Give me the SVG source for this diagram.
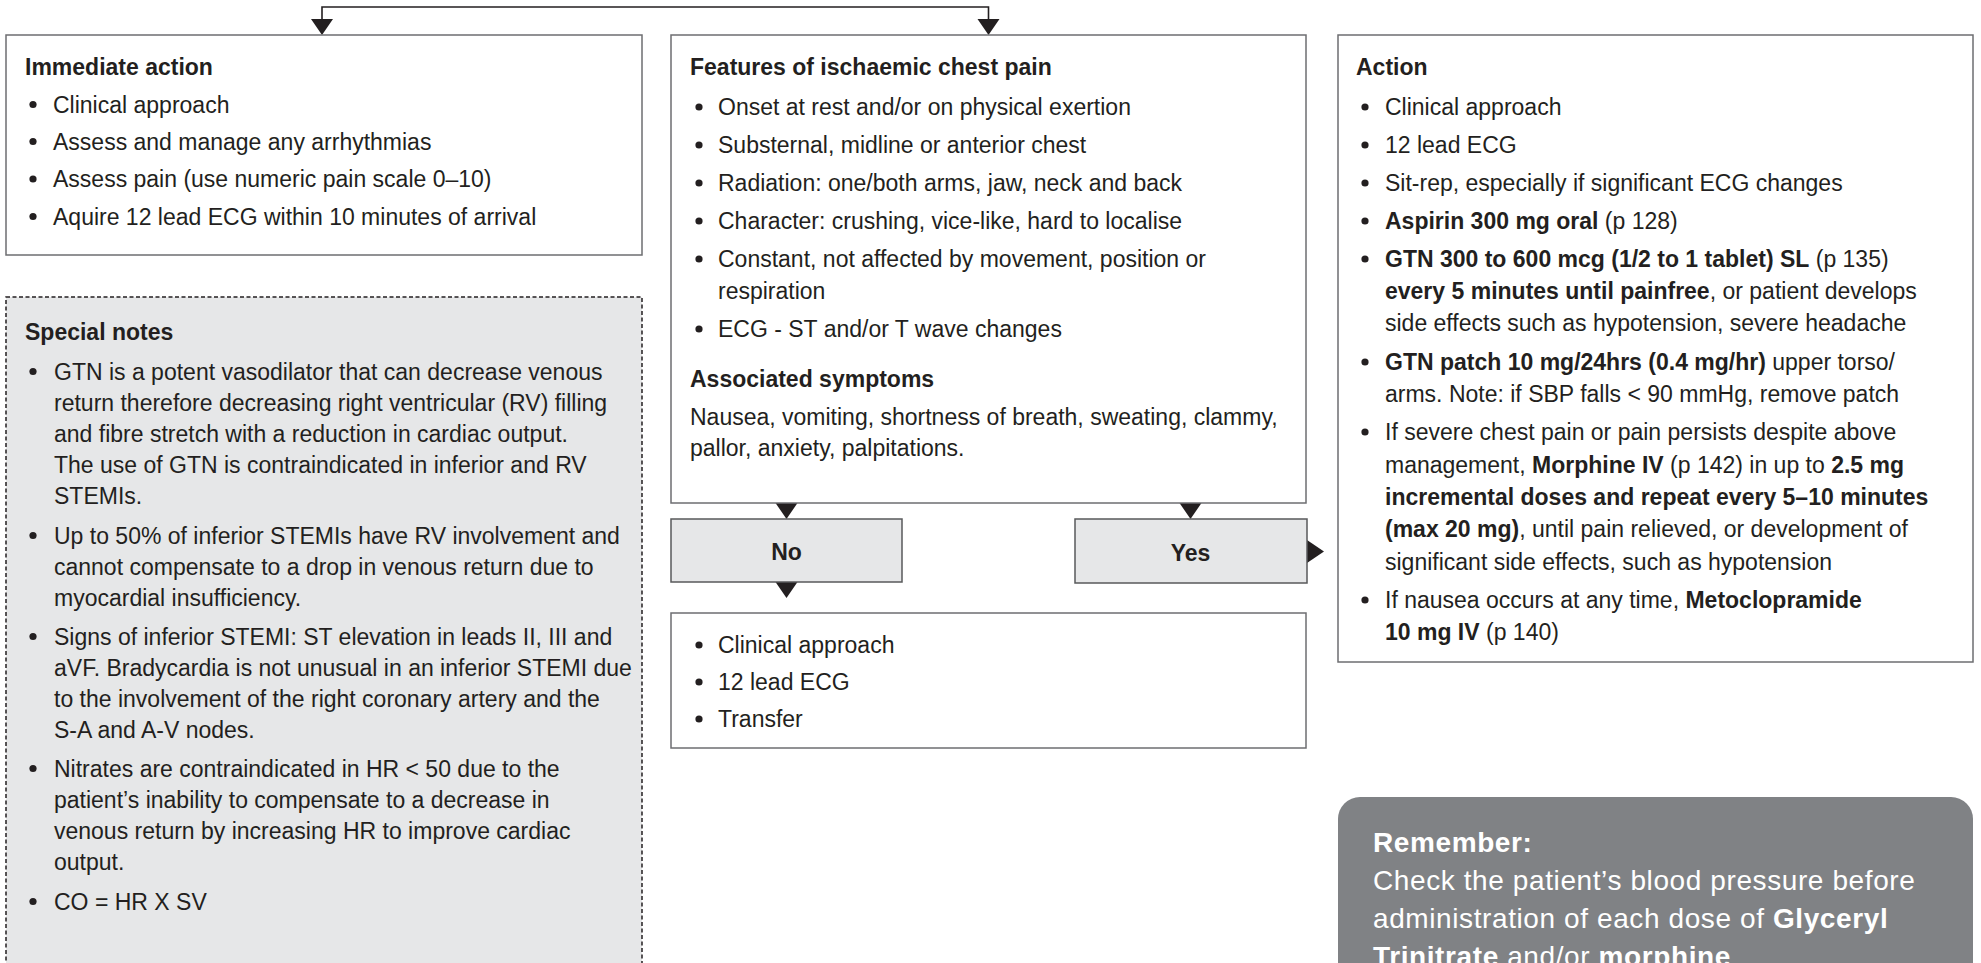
<svg xmlns="http://www.w3.org/2000/svg" width="1981" height="963" viewBox="0 0 1981 963">
  <style>
    .t { font-family: "Liberation Sans", Arial, Helvetica, sans-serif; font-size: 23px; fill: #231f20; }
    .b { font-weight: bold; }
    .box { fill: #ffffff; stroke: #6d6e71; stroke-width: 1.5; }
    .choice { fill: #e6e7e8; stroke: #58595b; stroke-width: 1.5; }
    .notes { fill: #e6e7e8; stroke: #231f20; stroke-width: 1.5; stroke-dasharray: 4 2.5; }
    .rem { fill: #808285; }
    .rt { font-family: "Liberation Sans", Arial, Helvetica, sans-serif; font-size: 28px; fill: #ffffff; letter-spacing: 0.6px; }
    .line { fill: none; stroke: #231f20; stroke-width: 1.6; }
    .head { fill: #231f20; }
    .dot { fill: #231f20; }
  </style>
  <defs>
    <circle id="bullet" r="3.6" class="dot"/>
    <path id="arrowDown" d="M -11 0 L 11 0 L 0 16 Z" class="head"/>
  </defs>

  <rect width="1981" height="963" fill="#ffffff"/>

  <!-- connectors -->
  <g id="connectors">
    <polyline class="line" points="322,20 322,7 988.5,7 988.5,20"/>
    <use href="#arrowDown" x="322" y="19"/>
    <use href="#arrowDown" x="988.5" y="19"/>
    <use href="#arrowDown" x="786.5" y="503"/>
    <use href="#arrowDown" x="1190.5" y="503"/>
    <use href="#arrowDown" x="786.5" y="582"/>
    <path d="M 1307 540 L 1307 563 L 1324 551.5 Z" class="head"/>
  </g>

  <!-- Immediate action -->
  <g id="immediate-action">
    <rect class="box" x="6" y="35" width="636" height="220"/>
    <text class="t b" x="25" y="75">Immediate action</text>
    <use href="#bullet" x="33" y="104.5"/>
    <text class="t" x="53" y="112.5">Clinical approach</text>
    <use href="#bullet" x="33" y="141.5"/>
    <text class="t" x="53" y="149.5">Assess and manage any arrhythmias</text>
    <use href="#bullet" x="33" y="179"/>
    <text class="t" x="53" y="187">Assess pain (use numeric pain scale 0–10)</text>
    <use href="#bullet" x="33" y="216.5"/>
    <text class="t" x="53" y="224.5">Aquire 12 lead ECG within 10 minutes of arrival</text>
  </g>

  <!-- Special notes -->
  <g id="special-notes">
    <rect class="notes" x="6" y="297" width="636" height="700"/>
    <text class="t b" x="25" y="340">Special notes</text>
    <use href="#bullet" x="33" y="371.5"/>
    <text class="t" x="54" y="379.5">GTN is a potent vasodilator that can decrease venous</text>
    <text class="t" x="54" y="410.5">return therefore decreasing right ventricular (RV) filling</text>
    <text class="t" x="54" y="442">and fibre stretch with a reduction in cardiac output.</text>
    <text class="t" x="54" y="472.5">The use of GTN is contraindicated in inferior and RV</text>
    <text class="t" x="54" y="503.5">STEMIs.</text>
    <use href="#bullet" x="33" y="535.5"/>
    <text class="t" x="54" y="543.5">Up to 50% of inferior STEMIs have RV involvement and</text>
    <text class="t" x="54" y="574.5">cannot compensate to a drop in venous return due to</text>
    <text class="t" x="54" y="605.5">myocardial insufficiency.</text>
    <use href="#bullet" x="33" y="636.5"/>
    <text class="t" x="54" y="644.5">Signs of inferior STEMI: ST elevation in leads II, III and</text>
    <text class="t" x="54" y="675.5">aVF. Bradycardia is not unusual in an inferior STEMI due</text>
    <text class="t" x="54" y="706.5">to the involvement of the right coronary artery and the</text>
    <text class="t" x="54" y="737.5">S-A and A-V nodes.</text>
    <use href="#bullet" x="33" y="768.5"/>
    <text class="t" x="54" y="776.5">Nitrates are contraindicated in HR &lt; 50 due to the</text>
    <text class="t" x="54" y="807.5">patient’s inability to compensate to a decrease in</text>
    <text class="t" x="54" y="839">venous return by increasing HR to improve cardiac</text>
    <text class="t" x="54" y="870">output.</text>
    <use href="#bullet" x="33" y="901.5"/>
    <text class="t" x="54" y="909.5">CO = HR X SV</text>
  </g>

  <!-- Features of ischaemic chest pain -->
  <g id="features">
    <rect class="box" x="671" y="35" width="635" height="468"/>
    <text class="t b" x="690" y="75">Features of ischaemic chest pain</text>
    <use href="#bullet" x="699" y="107"/>
    <text class="t" x="718" y="115">Onset at rest and/or on physical exertion</text>
    <use href="#bullet" x="699" y="145"/>
    <text class="t" x="718" y="153">Substernal, midline or anterior chest</text>
    <use href="#bullet" x="699" y="183"/>
    <text class="t" x="718" y="191">Radiation: one/both arms, jaw, neck and back</text>
    <use href="#bullet" x="699" y="221"/>
    <text class="t" x="718" y="229">Character: crushing, vice-like, hard to localise</text>
    <use href="#bullet" x="699" y="259"/>
    <text class="t" x="718" y="267">Constant, not affected by movement, position or</text>
    <text class="t" x="718" y="299">respiration</text>
    <use href="#bullet" x="699" y="329"/>
    <text class="t" x="718" y="337">ECG - ST and/or T wave changes</text>
    <text class="t b" x="690" y="387">Associated symptoms</text>
    <text class="t" x="690" y="425">Nausea, vomiting, shortness of breath, sweating, clammy,</text>
    <text class="t" x="690" y="456">pallor, anxiety, palpitations.</text>
  </g>

  <!-- No -->
  <g id="no">
    <rect class="choice" x="671" y="519" width="231" height="63"/>
    <text class="t b" x="786.5" y="560" text-anchor="middle">No</text>
  </g>

  <!-- Yes -->
  <g id="yes">
    <rect class="choice" x="1075" y="519" width="232" height="64"/>
    <text class="t b" x="1190.5" y="561" text-anchor="middle">Yes</text>
  </g>

  <!-- No outcome -->
  <g id="no-outcome">
    <rect class="box" x="671" y="613" width="635" height="135"/>
    <use href="#bullet" x="699" y="645"/>
    <text class="t" x="718" y="653">Clinical approach</text>
    <use href="#bullet" x="699" y="682"/>
    <text class="t" x="718" y="690">12 lead ECG</text>
    <use href="#bullet" x="699" y="719"/>
    <text class="t" x="718" y="727">Transfer</text>
  </g>

  <!-- Action -->
  <g id="action">
    <rect class="box" x="1338" y="35" width="635" height="627"/>
    <text class="t b" x="1356" y="75">Action</text>
    <use href="#bullet" x="1365" y="107"/>
    <text class="t" x="1385" y="115">Clinical approach</text>
    <use href="#bullet" x="1365" y="145"/>
    <text class="t" x="1385" y="153">12 lead ECG</text>
    <use href="#bullet" x="1365" y="183"/>
    <text class="t" x="1385" y="191">Sit-rep, especially if significant ECG changes</text>
    <use href="#bullet" x="1365" y="221"/>
    <text class="t" x="1385" y="229"><tspan class="b">Aspirin 300 mg oral</tspan> (p 128)</text>
    <use href="#bullet" x="1365" y="259"/>
    <text class="t" x="1385" y="267"><tspan class="b">GTN 300 to 600 mcg (1/2 to 1 tablet) SL</tspan> (p 135)</text>
    <text class="t" x="1385" y="299"><tspan class="b">every 5 minutes until painfree</tspan>, or patient develops</text>
    <text class="t" x="1385" y="331">side effects such as hypotension, severe headache</text>
    <use href="#bullet" x="1365" y="362"/>
    <text class="t" x="1385" y="370"><tspan class="b">GTN patch 10 mg/24hrs (0.4 mg/hr)</tspan> upper torso/</text>
    <text class="t" x="1385" y="402">arms. Note: if SBP falls &lt; 90 mmHg, remove patch</text>
    <use href="#bullet" x="1365" y="432"/>
    <text class="t" x="1385" y="440">If severe chest pain or pain persists despite above</text>
    <text class="t" x="1385" y="472.5">management, <tspan class="b">Morphine IV</tspan> (p 142) in up to <tspan class="b">2.5 mg</tspan></text>
    <text class="t b" x="1385" y="504.5">incremental doses and repeat every 5–10 minutes</text>
    <text class="t" x="1385" y="537"><tspan class="b">(max 20 mg)</tspan>, until pain relieved, or development of</text>
    <text class="t" x="1385" y="569.5">significant side effects, such as hypotension</text>
    <use href="#bullet" x="1365" y="600"/>
    <text class="t" x="1385" y="608">If nausea occurs at any time, <tspan class="b">Metoclopramide</tspan></text>
    <text class="t" x="1385" y="640"><tspan class="b">10 mg IV</tspan> (p 140)</text>
  </g>

  <!-- Remember -->
  <g id="remember">
    <rect class="rem" x="1338" y="797" width="635" height="220" rx="22" ry="22"/>
    <text class="rt b" x="1373" y="852">Remember:</text>
    <text class="rt" x="1373" y="890">Check the patient’s blood pressure before</text>
    <text class="rt" x="1373" y="928">administration of each dose of <tspan class="b">Glyceryl</tspan></text>
    <text class="rt" x="1373" y="966"><tspan class="b">Trinitrate</tspan> and/or <tspan class="b">morphine</tspan></text>
  </g>
</svg>
